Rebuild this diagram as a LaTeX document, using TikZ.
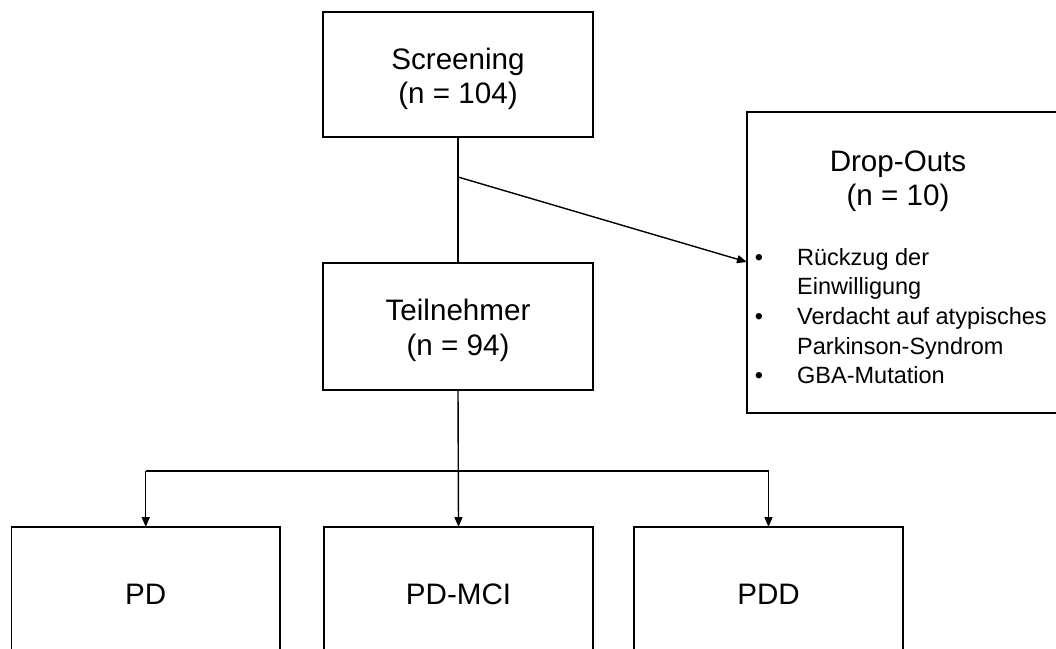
\documentclass[tikz,border=0pt]{standalone}
\usepackage{fontspec}
\setmainfont{Liberation Sans}
\usetikzlibrary{arrows.meta}
\begin{document}
\begin{tikzpicture}[x=1pt,y=-1pt,
  box/.style={draw=black, line width=1.8pt, inner sep=0pt, outer sep=0pt, anchor=north west, fill=white},
  big/.style={font=\fontsize{29.6}{35}\selectfont, inner sep=0pt},
  small/.style={font=\fontsize{23.5}{29.7}\selectfont, inner sep=0pt},
  ln/.style={draw=black, line width=1.4pt},
  arr/.style={draw=black, line width=1.4pt, -{Triangle[length=10pt,width=8pt]}}]
\useasboundingbox (0,0) rectangle (1056,648);
\clip (0,0) rectangle (1056,648);
\fill[white] (0,0) rectangle (1056,648);
% boxes
\node[box, minimum width=270pt, minimum height=125pt] (scr) at (323,12) {};
\node[box, minimum width=270pt, minimum height=127pt] (tn) at (323,263) {};
\node[box, minimum width=320pt, minimum height=301pt] (do) at (747,112) {};
\node[box, minimum width=268.5pt, minimum height=134pt, big] (pd) at (11.5,527) {PD};
\node[box, minimum width=269pt, minimum height=134pt, big] (mci) at (324,527) {PD-MCI};
\node[box, minimum width=269pt, minimum height=134pt, big] (pdd) at (634,527) {PDD};
% texts
\node[big, anchor=base] (scr1) at (458,69) {Screening};
\node[big, anchor=base] (scr2) at (458,103) {(n = 104)};
\node[big, anchor=base] (tn1) at (458,320) {Teilnehmer};
\node[big, anchor=base] (tn2) at (458,355) {(n = 94)};
\node[big, anchor=base] (do1) at (898,171) {Drop-Outs};
\node[big, anchor=base] (do2) at (898,205) {(n = 10)};
\node[small, anchor=base] (bu1) at (759,265) {•};
\node[small, anchor=base west] (it1) at (797,265) {Rückzug der};
\node[small, anchor=base west] (it1b) at (797,294.7) {Einwilligung};
\node[small, anchor=base] (bu2) at (759,324.4) {•};
\node[small, anchor=base west] (it2) at (797,324.4) {Verdacht auf atypisches};
\node[small, anchor=base west] (it2b) at (797,354.1) {Parkinson-Syndrom};
\node[small, anchor=base] (bu3) at (759,383.8) {•};
\node[small, anchor=base west] (it3) at (797,383.8) {GBA-Mutation};
% connectors
\draw[ln] (scr.south) -- (tn.north);
\coordinate (j1) at (458,177);
\coordinate (dtip) at (do.west |- 0,262);
\draw[arr] (j1) -- (dtip);
\coordinate (hl) at (pd.north |- 0,471);
\coordinate (hr) at (pdd.north |- 0,471);
\draw[ln] (hl) -- (hr);
\draw[arr] (hl) -- (pd.north);
\draw[arr] (tn.south) -- (mci.north);
\draw[arr] (hr) -- (pdd.north);
\end{tikzpicture}
\end{document}
